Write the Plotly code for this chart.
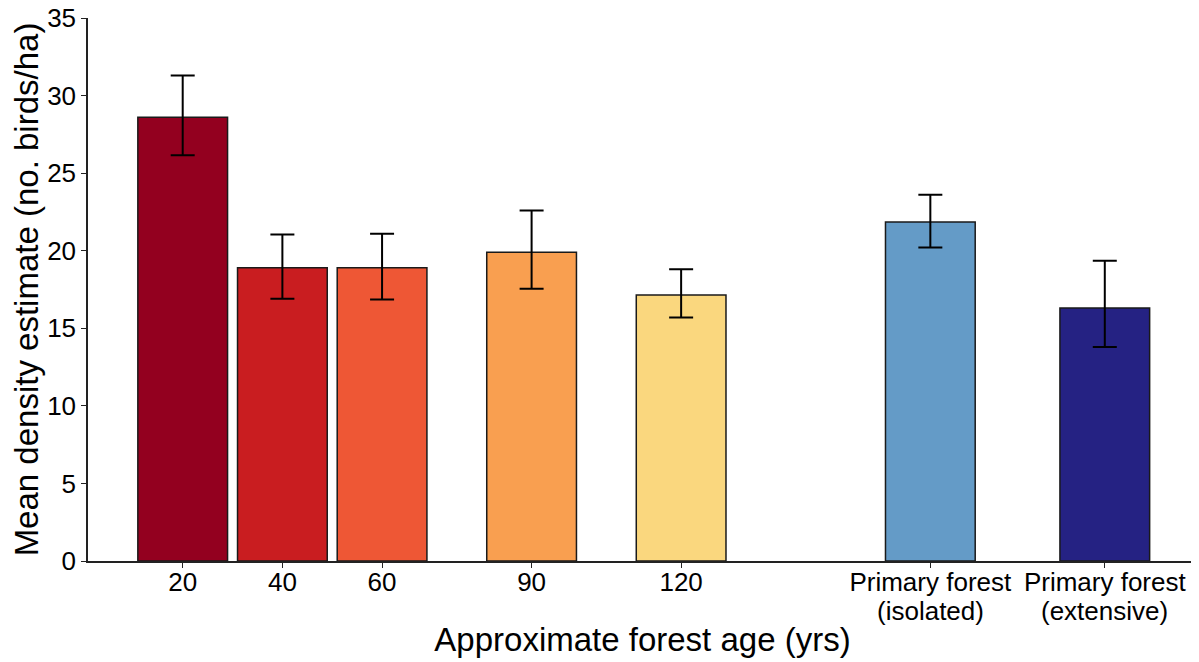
import plotly.graph_objects as go

x_pos = [20, 40, 60, 90, 120, 170, 205]
tick_labels = ["20", "40", "60", "90", "120", "Primary forest", "Primary forest"]
sub_labels = ["", "", "", "", "", "(isolated)", "(extensive)"]
means = [28.6, 18.9, 18.9, 19.9, 17.15, 21.85, 16.3]
upper = [31.3, 21.05, 21.1, 22.6, 18.8, 23.6, 19.35]
lower = [26.15, 16.9, 16.85, 17.55, 15.7, 20.2, 13.8]
colors = ["#93001F", "#C91D20", "#EE5735", "#F99F50", "#FAD77E", "#649BC7", "#252283"]

err_plus = [u - m for u, m in zip(upper, means)]
err_minus = [m - l for m, l in zip(means, lower)]

fig = go.Figure()
fig.add_trace(go.Bar(
    x=x_pos, y=means, width=18,
    marker=dict(color=colors, line=dict(color="#1a1a1a", width=1.5)),
    error_y=dict(type="data", array=err_plus, arrayminus=err_minus,
                 color="black", thickness=2, width=12),
    showlegend=False,
))

font_family = "Liberation Sans, Arial, sans-serif"
for xv, s in zip(x_pos, sub_labels):
    if s:
        fig.add_annotation(x=xv, y=0, xref="x", yref="paper", text=s,
                           showarrow=False, yanchor="middle", yshift=-50,
                           font=dict(size=26, color="black", family=font_family))

fig.update_layout(
    width=1191, height=654,
    margin=dict(l=80, r=2, t=10, b=101),
    plot_bgcolor="white", paper_bgcolor="white",
    font=dict(family=font_family, color="black"),
    xaxis=dict(
        range=[1, 223.5], tickmode="array", tickvals=x_pos, ticktext=tick_labels,
        showline=True, linecolor="#222", linewidth=1.5, automargin=False,
        ticks="outside", ticklen=5, tickcolor="#222", ticklabelstandoff=-8,
        tickfont=dict(size=26, color="black"), showgrid=False, zeroline=False,
        title=dict(text="Approximate forest age (yrs)", font=dict(size=33), standoff=32),
    ),
    yaxis=dict(
        range=[0, 35], tickvals=[0, 5, 10, 15, 20, 25, 30, 35],
        showline=True, linecolor="#222", linewidth=1.5, automargin=False,
        ticks="outside", ticklen=5, tickcolor="#222", ticklabeloverflow="allow",
        tickfont=dict(size=26, color="black"), showgrid=False, zeroline=False,
        title=dict(text="Mean density estimate (no. birds/ha)", font=dict(size=33), standoff=4),
    ),
)

fig.write_html("out.html")
